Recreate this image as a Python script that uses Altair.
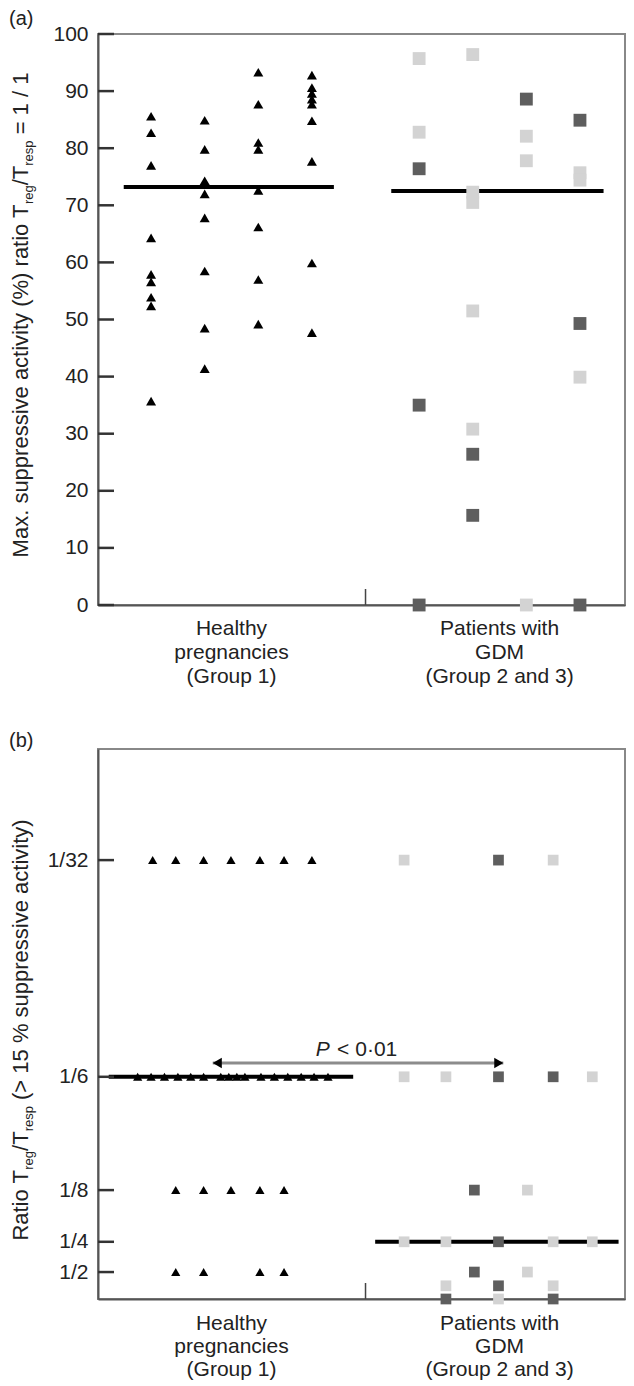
import altair as alt
import pandas as pd

FONT = "Liberation Sans"
TXT = "#222"

# ---------------- panel (a) data ----------------
a_y_ticks = [0, 10, 20, 30, 40, 50, 60, 70, 80, 90, 100]
healthy_cols = [1, 2, 3, 4]
healthy_vals = [
    [85.6, 82.7, 77.0, 64.3, 57.9, 56.6, 53.9, 52.4, 35.7],
    [84.9, 79.8, 74.3, 72.0, 67.8, 58.5, 48.5, 41.4],
    [93.3, 87.7, 81.0, 79.8, 72.6, 66.2, 57.0, 49.2],
    [92.8, 90.6, 89.6, 88.6, 87.7, 84.8, 77.7, 59.9, 47.7],
]
gdm_cols = [6, 7, 8, 9]
gdm_light_vals = [
    [95.7, 82.8],
    [96.4, 72.3, 70.5, 51.5, 30.8],
    [82.1, 77.8, 0.0],
    [75.7, 74.4, 39.9],
]
gdm_dark_vals = [
    [76.4, 35.0, 0.0],
    [26.4, 15.7],
    [88.6],
    [84.9, 49.3, 0.0],
]
a_mean_y = [73.2, 72.5]
a_mean_from = [0.49, 5.48]
a_mean_to = [4.41, 9.44]

group_labels = ["Healthy\npregnancies\n(Group 1)", "Patients with\nGDM\n(Group 2 and 3)"]
group_label_x = [2.5, 7.5]
separator_x = [5]

# ---------------- panel (b) data ----------------
b_rows = ["1/32", "1/6", "1/8", "1/4", "1/2", "below 1/2", "none"]
b_row_pos = [79.8, 40.4, 19.8, 10.4, 4.9, 2.4, 0.0]
b_tick_labels = ["1/32", "1/6", "1/8", "1/4", "1/2"]

b_tri_rows = ["1/32", "1/6", "1/8", "1/2"]
b_tri_x = [
    [1.03, 1.46, 1.98, 2.49, 3.03, 3.48, 4.0],
    [0.75, 1.0, 1.25, 1.5, 1.74, 1.98, 2.3, 2.45, 2.6, 2.75, 3.05, 3.3, 3.55, 3.8, 4.04, 4.3],
    [1.46, 1.98, 2.49, 3.03, 3.48],
    [1.46, 1.98, 3.03, 3.48],
]
b_light_rows = ["1/32", "1/6", "1/8", "1/4", "1/2", "below 1/2", "none"]
b_light_x = [
    [5.72, 8.50],
    [5.72, 6.50, 9.23],
    [8.02],
    [5.72, 6.50, 8.50, 9.23],
    [8.02],
    [6.50, 8.50],
    [7.48],
]
b_dark_rows = ["1/32", "1/6", "1/8", "1/4", "1/2", "below 1/2", "none"]
b_dark_x = [
    [7.48],
    [7.48, 8.50],
    [7.03],
    [7.48],
    [7.03],
    [7.48],
    [6.50, 8.50],
]
b_mean_rows = ["1/6", "1/4"]
b_mean_from = [0.21, 5.18]
b_mean_to = [4.77, 9.72]
arrow_from, arrow_to, arrow_level = 2.15, 7.57, 42.9
p_text = ["P", "< 0·01"]
p_text_x = [4.07, 4.47]
p_text_level = 44.2

# ---------------- layout constants ----------------
W, HA, HB = 527, 571, 550
X_MIN, X_MAX = 0.01, 9.84
XS = alt.Scale(domain=[X_MIN, X_MAX], nice=False, zero=False)
YS = alt.Scale(domain=[0, 100], nice=False, zero=False)
PX_PER_X = W / (X_MAX - X_MIN)
TICK_LEN_PX = 16

AW = {' ': 278, 'M': 833, 'a': 556, 'x': 500, '.': 278, 's': 500, 'u': 556, 'p': 556,
      'r': 333, 'e': 556, 'i': 222, 'v': 500, 'c': 500, 't': 278, 'y': 500, '(': 333,
      '%': 889, ')': 333, 'o': 556, 'T': 611, '/': 278, '=': 584, '1': 556, 'g': 556,
      'R': 722, '>': 584, '5': 556}


def tw(s, fs):
    return sum(AW.get(c, 556) for c in s) / 1000.0 * fs


def title_layers(pieces, center_y, x_base):
    total = sum(tw(t, fs) + gap for t, fs, sh, gap in pieces)
    y = center_y + total / 2.0
    out = []
    for t, fs, sh, gap in pieces:
        y -= gap
        out.append(
            alt.Chart(pd.DataFrame({"t": [t]})).mark_text(
                font=FONT, fontSize=fs, angle=270, align="left",
                baseline="alphabetic", color=TXT
            ).encode(x=alt.value(x_base + sh), y=alt.value(y), text="t:N")
        )
        y -= tw(t, fs)
    return out


XAX = alt.Axis(labels=False, ticks=False, domain=True, grid=False, title=None,
               domainColor="#555", domainWidth=2)


def yaxis(values, label_expr=None):
    kw = dict(values=values, ticks=False, tickSize=0, labelPadding=10, labelFontSize=21,
              labelFont=FONT, labelColor=TXT, domainColor="#555", domainWidth=2,
              grid=False, title=None, labelOverlap=False)
    if label_expr:
        kw["labelExpr"] = label_expr
    return alt.Axis(**kw)


def X(field, ax):
    return alt.X(field, scale=XS, axis=ax)


def Y(field, ax):
    return alt.Y(field, scale=YS, axis=ax)


def common_layers(h, tick_vals, yax, letter, letter_y, pieces, lab_top, lab_lh):
    # inward ticks, drawn as short rules starting at the y axis
    df_ticks = pd.DataFrame({"v": tick_vals})
    df_ticks["t0"] = X_MIN
    df_ticks["t1"] = X_MIN + TICK_LEN_PX / PX_PER_X
    ticks = alt.Chart(df_ticks).mark_rule(color="#333", strokeWidth=2.5, opacity=1).encode(
        x=X("t0:Q", XAX), x2="t1:Q", y=Y("v:Q", yax))
    sep = alt.Chart(pd.DataFrame({"x": separator_x})).mark_rule(
        color="#444", strokeWidth=1.5
    ).encode(x=X("x:Q", XAX), y=alt.value(h - 16), y2=alt.value(h))
    labels = alt.Chart(pd.DataFrame({"x": group_label_x, "label": group_labels})).mark_text(
        font=FONT, fontSize=21, lineHeight=lab_lh, baseline="top",
        align="center", color=TXT, lineBreak="\n"
    ).encode(x=X("x:Q", XAX), y=alt.value(h + lab_top), text="label:N")
    let = alt.Chart(pd.DataFrame({"t": [letter]})).mark_text(
        font=FONT, fontSize=20, align="left", baseline="top", color=TXT
    ).encode(x=alt.value(-89), y=alt.value(letter_y), text="t:N")
    return [sep, labels, let] + title_layers(pieces, 281, -70) + [ticks]


shade_scale = alt.Scale(domain=["light", "dark"], range=["#d3d3d3", "#5e5e5e"])

# ---------------- panel (a) ----------------
rows = []
for cx, vals in zip(healthy_cols, healthy_vals):
    rows += [{"x": cx, "y": v} for v in vals]
df_a_tri = pd.DataFrame(rows)
rows = []
for cx, vals in zip(gdm_cols, gdm_light_vals):
    rows += [{"x": cx, "y": v, "shade": "light"} for v in vals]
for cx, vals in zip(gdm_cols, gdm_dark_vals):
    rows += [{"x": cx, "y": v, "shade": "dark"} for v in vals]
df_a_sq = pd.DataFrame(rows)
df_a_mean = pd.DataFrame({"x0": a_mean_from, "x1": a_mean_to, "y": a_mean_y})

YAX_A = yaxis(a_y_ticks)
a_mean = alt.Chart(df_a_mean).mark_rule(color="black", strokeWidth=4).encode(
    x=X("x0:Q", XAX), x2="x1:Q", y=Y("y:Q", YAX_A))
a_tri = alt.Chart(df_a_tri).mark_point(
    shape="triangle-up", filled=True, size=100, color="black", opacity=1, strokeWidth=0
).encode(x=X("x:Q", XAX), y=Y("y:Q", YAX_A))
a_sq = alt.Chart(df_a_sq).mark_square(size=165, opacity=1).encode(
    x=X("x:Q", XAX), y=Y("y:Q", YAX_A),
    color=alt.Color("shade:N", scale=shade_scale, legend=None))

pieces_a = [("Max. suppressive activity (%) ratio T", 22, 0, 0), ("reg", 13, 5, 0),
            ("/T", 22, 0, 0), ("resp", 13, 5, 0), ("= 1 / 1", 22, 0, 0.278 * 22)]
panel_a = alt.layer(
    a_mean, a_tri, a_sq,
    *common_layers(HA, a_y_ticks, YAX_A, "(a)", -25, pieces_a, 13, 24)
).properties(width=W, height=HA)

# ---------------- panel (b) ----------------
pos = dict(zip(b_rows, b_row_pos))
rows = []
for r, xs in zip(b_tri_rows, b_tri_x):
    rows += [{"x": x, "y": pos[r]} for x in xs]
df_b_tri = pd.DataFrame(rows)
rows = []
for r, xs in zip(b_light_rows, b_light_x):
    rows += [{"x": x, "y": pos[r], "shade": "light"} for x in xs]
for r, xs in zip(b_dark_rows, b_dark_x):
    rows += [{"x": x, "y": pos[r], "shade": "dark"} for x in xs]
df_b_sq = pd.DataFrame(rows)
df_b_mean = pd.DataFrame({"x0": b_mean_from, "x1": b_mean_to,
                          "y": [pos[r] for r in b_mean_rows]})

b_tick_vals = [pos[r] for r in b_tick_labels]
expr = "''"
for v, lab in reversed(list(zip(b_tick_vals, b_tick_labels))):
    expr = f"datum.value == {v} ? '{lab}' : ({expr})"
YAX_B = yaxis(b_tick_vals, expr)

b_mean = alt.Chart(df_b_mean).mark_rule(color="black", strokeWidth=4).encode(
    x=X("x0:Q", XAX), x2="x1:Q", y=Y("y:Q", YAX_B))
b_tri = alt.Chart(df_b_tri).mark_point(
    shape="triangle-up", filled=True, size=85, color="black", opacity=1, strokeWidth=0
).encode(x=X("x:Q", XAX), y=Y("y:Q", YAX_B))
b_sq = alt.Chart(df_b_sq).mark_square(size=115, opacity=1).encode(
    x=X("x:Q", XAX), y=Y("y:Q", YAX_B),
    color=alt.Color("shade:N", scale=shade_scale, legend=None))

head_size = 110
head_off = (3 ** 0.5 / 2) * (head_size ** 0.5 / 2) / PX_PER_X
df_arrow = pd.DataFrame({"x0": [arrow_from], "x1": [arrow_to], "y": [arrow_level]})
df_heads = pd.DataFrame({"x": [arrow_from + head_off, arrow_to - head_off],
                         "y": [arrow_level, arrow_level], "dir": ["l", "r"]})
shaft = alt.Chart(df_arrow).mark_rule(color="#8c8c8c", strokeWidth=3).encode(
    x=X("x0:Q", XAX), x2="x1:Q", y=Y("y:Q", YAX_B))
heads = alt.Chart(df_heads).mark_point(filled=True, size=head_size, color="black",
                                       opacity=1, strokeWidth=0).encode(
    x=X("x:Q", XAX), y=Y("y:Q", YAX_B),
    shape=alt.Shape("dir:N", scale=alt.Scale(domain=["l", "r"],
                                             range=["triangle-left", "triangle-right"]),
                    legend=None))
p_italic = alt.Chart(pd.DataFrame({"t": [p_text[0]], "x": [p_text_x[0]], "y": [p_text_level]})).mark_text(
    font=FONT, fontSize=21, fontStyle="italic", align="left", baseline="alphabetic", color=TXT
).encode(x=X("x:Q", XAX), y=Y("y:Q", YAX_B), text="t:N")
p_rest = alt.Chart(pd.DataFrame({"t": [p_text[1]], "x": [p_text_x[1]], "y": [p_text_level]})).mark_text(
    font=FONT, fontSize=21, align="left", baseline="alphabetic", color=TXT
).encode(x=X("x:Q", XAX), y=Y("y:Q", YAX_B), text="t:N")

pieces_b = [("Ratio T", 22, 0, 0), ("reg", 13, 5, 0), ("/T", 22, 0, 0), ("resp", 13, 5, 0),
            ("(> 15 % suppressive activity)", 22, 0, 0.278 * 22)]
panel_b = alt.layer(
    b_mean, shaft, heads, b_tri, b_sq, p_italic, p_rest,
    *common_layers(HB, b_tick_vals, YAX_B, "(b)", -18, pieces_b, 14, 23)
).properties(width=W, height=HB)

chart = alt.vconcat(panel_a, panel_b, spacing=144, bounds="flush").properties(
    padding={"left": 0, "top": 0, "right": 0, "bottom": 0}
).configure_view(stroke="#888", strokeWidth=2)

chart.save("out.html", embed_options={"renderer": "svg", "actions": False})
